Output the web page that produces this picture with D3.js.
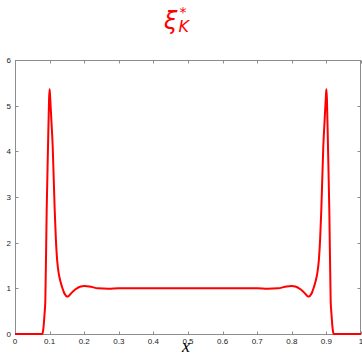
<!DOCTYPE html>
<html><head><meta charset="utf-8">
<script src="https://cdn.jsdelivr.net/npm/d3@7"></script>
<style>body{margin:0;background:#fff;}svg{display:block;}</style>
</head><body>
<svg id="c" width="362" height="354"></svg>
<script>
const xVals = [0, 0.05, 0.079, 0.082, 0.085, 0.0877, 0.0916, 0.0954, 0.0985, 0.1, 0.1015, 0.105, 0.109, 0.1147, 0.118, 0.122, 0.1265, 0.131, 0.136, 0.141, 0.146, 0.15, 0.155, 0.162, 0.175, 0.19, 0.2, 0.215, 0.24, 0.27, 0.3, 0.35, 0.4, 0.45, 0.5,
  0.55, 0.6, 0.65, 0.7, 0.73, 0.76, 0.785, 0.8, 0.81, 0.825, 0.838, 0.845, 0.85, 0.854, 0.859, 0.864, 0.869, 0.8735, 0.878, 0.882, 0.8853, 0.891, 0.895, 0.8985, 0.9, 0.9015, 0.9046, 0.9084, 0.9123, 0.915, 0.918, 0.921, 0.95, 1];
const yVals = [0, 0, 0, 0.12, 0.4, 0.74, 2.72, 4.1, 5.15, 5.36, 5.2, 4.7, 4.1, 2.72, 2.1, 1.6, 1.32, 1.16, 1.03, 0.92, 0.85, 0.82, 0.83, 0.89, 0.98, 1.04, 1.05, 1.04, 1.0, 0.99, 1.0, 1.0, 1.0, 1.0, 1.0,
  1.0, 1.0, 1.0, 1.0, 0.99, 1.0, 1.04, 1.05, 1.04, 0.98, 0.89, 0.83, 0.82, 0.85, 0.92, 1.03, 1.16, 1.32, 1.6, 2.1, 2.72, 4.1, 4.7, 5.2, 5.36, 5.15, 4.1, 2.72, 0.74, 0.4, 0.12, 0, 0, 0];
const xTicks = [0, 0.1, 0.2, 0.3, 0.4, 0.5, 0.6, 0.7, 0.8, 0.9, 1];
const xTickLabels = ["0", "0.1", "0.2", "0.3", "0.4", "0.5", "0.6", "0.7", "0.8", "0.9", "1"];
const yTicks = [0, 1, 2, 3, 4, 5, 6];
const yTickLabels = ["0", "1", "2", "3", "4", "5", "6"];

const svg = d3.select("#c");
const L = 15, R = 361, T = 60, B = 334;
const x = d3.scaleLinear().domain([0, 1]).range([L, R]);
const y = d3.scaleLinear().domain([0, 6]).range([B, T]);
const axisCol = "#8c8c8c", tickLen = 3;

const g = svg.append("g");
g.append("rect").attr("x", L + 0.5).attr("y", T + 0.5).attr("width", R - L - 1).attr("height", B - T)
  .attr("fill", "none").attr("stroke", axisCol).attr("stroke-width", 1);

xTicks.forEach(t => {
  const px = Math.round(x(t)) + 0.5;
  g.append("line").attr("x1", px).attr("x2", px).attr("y1", B + 0.5).attr("y2", B + 0.5 - tickLen).attr("stroke", axisCol);
  g.append("line").attr("x1", px).attr("x2", px).attr("y1", T + 0.5).attr("y2", T + 0.5 + tickLen).attr("stroke", axisCol);
});
yTicks.forEach(t => {
  const py = Math.round(y(t)) + 0.5;
  g.append("line").attr("x1", L + 0.5).attr("x2", L + 0.5 + tickLen).attr("y1", py).attr("y2", py).attr("stroke", axisCol);
  g.append("line").attr("x1", R - 0.5).attr("x2", R - 0.5 - tickLen).attr("y1", py).attr("y2", py).attr("stroke", axisCol);
});
g.selectAll(".xl").data(xTicks).enter().append("text")
  .attr("x", d => x(d)).attr("y", B + 10).attr("text-anchor", "middle")
  .attr("font-family", "Liberation Sans, Arial, sans-serif").attr("font-size", 8).attr("fill", "#222")
  .text((d, i) => xTickLabels[i]);
g.selectAll(".yl").data(yTicks).enter().append("text")
  .attr("x", L - 4).attr("y", d => y(d) + 3).attr("text-anchor", "end")
  .attr("font-family", "Liberation Sans, Arial, sans-serif").attr("font-size", 8).attr("fill", "#222")
  .text((d, i) => yTickLabels[i]);

const pts = xVals.map((v, i) => [v, yVals[i]]);
const line = d3.line().x(d => x(d[0])).y(d => y(d[1])).curve(d3.curveMonotoneX);
svg.append("path").attr("d", line(pts)).attr("fill", "none").attr("stroke", "#ff0000")
  .attr("stroke-width", 2).attr("stroke-linejoin", "round");

const title = svg.append("text").attr("x", 164).attr("y", 29).attr("fill", "#ff0000")
  .attr("font-family", "DejaVu Sans, sans-serif").attr("font-style", "italic");
title.append("tspan").attr("font-size", 24).text("ξ");
title.append("tspan").attr("font-size", 14).attr("dy", -12).attr("dx", 2).text("*");
title.append("tspan").attr("font-size", 16).attr("dy", 15).attr("dx", -8).text("K");

svg.append("text").attr("x", 186).attr("y", 352).attr("text-anchor", "middle")
  .attr("font-family", "Liberation Serif, Times New Roman, serif").attr("font-style", "italic")
  .attr("font-size", 18).attr("fill", "#000").text("x");
</script>
</body></html>
